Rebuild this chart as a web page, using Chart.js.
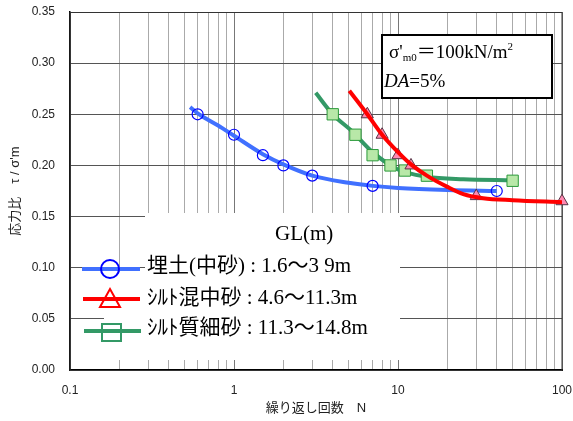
<!DOCTYPE html>
<html><head><meta charset="utf-8">
<script src="https://cdn.jsdelivr.net/npm/chart.js@4"></script>
<style>
html,body{margin:0;padding:0;background:#fff;}
#wrap{position:relative;width:573px;height:421px;}
canvas{position:absolute;left:0;top:0;}
.t{position:absolute;white-space:nowrap;font-family:"Liberation Serif","Noto Sans CJK JP",serif;color:#000;line-height:20px;}
.t sub{font-size:11px;vertical-align:-3px;line-height:0;}
.t sup{font-size:11px;vertical-align:8px;line-height:0;}
.lg{font-size:21px;}
</style></head><body>
<div id="wrap">
<canvas id="c" width="573" height="421"></canvas>
<div class="t" style="left:389px;top:42px;font-size:19px;">σ'<sub>m0</sub>＝100kN/m<sup>2</sup></div>
<div class="t" style="left:384px;top:71px;font-size:19px;"><i>DA</i>=5%</div>
<div class="t lg" style="left:275px;top:223px;">GL(m)</div>
<div class="t lg" style="left:147px;top:255px;">埋土(中砂) : 1.6～3 9m</div>
<div class="t lg" style="left:147px;top:287px;">ｼﾙﾄ混中砂 : 4.6～11.3m</div>
<div class="t lg" style="left:147px;top:317px;">ｼﾙﾄ質細砂 : 11.3～14.8m</div>
</div>
<script>
// 繰り返し回数 N と 応力比
const blueN = [0.6, 1, 1.5, 2, 3, 7, 40];
const blueT = [0.25, 0.23, 0.21, 0.20, 0.19, 0.18, 0.175];
const redN = [6.5, 8, 10, 12, 30, 100];
const redT = [0.25, 0.23, 0.21, 0.20, 0.17, 0.165];
const greenN = [4, 5.5, 7, 9, 11, 15, 50];
const greenT = [0.25, 0.23, 0.21, 0.20, 0.195, 0.19, 0.185];

// 近似曲線
const blueCurveN = [0.54, 0.6, 0.8, 1, 1.5, 2, 3, 5, 7, 10, 20, 40];
const blueCurveT = [0.257, 0.251, 0.239, 0.229, 0.211, 0.201, 0.19, 0.183, 0.18, 0.178, 0.176, 0.175];
const redCurveN = [5.05, 6.5, 8, 10, 12, 15, 20, 25, 33, 50, 100];
const redCurveT = [0.273, 0.25, 0.23, 0.213, 0.201, 0.19, 0.179, 0.172, 0.168, 0.166, 0.164];
const greenCurveN = [3.15, 4, 5.2, 7, 10, 15, 25, 50];
const greenCurveT = [0.271, 0.25, 0.234, 0.213, 0.196, 0.189, 0.1865, 0.1855];

const xTicks = [0.1,0.2,0.3,0.4,0.5,0.6,0.7,0.8,0.9,1,2,3,4,5,6,7,8,9,10,20,30,40,50,60,70,80,90,100];
const xLabels = {0.1:'0.1', 1:'1', 10:'10', 100:'100'};

const pts = (xs, ys) => xs.map((x,i)=>({x:x, y:ys[i]}));
const FONT = '"Liberation Sans", "Noto Sans CJK JP", sans-serif';

const overlay = {
  id:'overlay',
  beforeDatasetsDraw(chart){
    const ctx = chart.ctx, a = chart.chartArea;
    ctx.save();
    ctx.fillStyle='#fff';
    ctx.fillRect(145,213,255,147);
    ctx.fillRect(104,272,41,88);
    ctx.fillRect(382,35,170,63);
    ctx.lineWidth=2; ctx.strokeStyle='#000';
    ctx.strokeRect(382,35,170,63);
    ctx.lineWidth=1; ctx.strokeStyle='#333';
    ctx.strokeRect(a.left, a.top+0.5, a.right-a.left, a.bottom-a.top);
    ctx.restore();
  },
  afterDraw(chart){
    const ctx = chart.ctx;
    ctx.save();
    ctx.lineWidth=4;
    ctx.strokeStyle='#4070ff';
    ctx.beginPath(); ctx.moveTo(82,269); ctx.lineTo(140,269); ctx.stroke();
    ctx.strokeStyle='#ff0000';
    ctx.beginPath(); ctx.moveTo(83,299); ctx.lineTo(140,299); ctx.stroke();
    ctx.strokeStyle='#339966';
    ctx.beginPath(); ctx.moveTo(84,331); ctx.lineTo(141,331); ctx.stroke();
    ctx.lineWidth=2;
    ctx.strokeStyle='#0000ff';
    ctx.beginPath(); ctx.arc(110,269,9,0,Math.PI*2); ctx.stroke();
    ctx.strokeStyle='#ff0000';
    ctx.beginPath(); ctx.moveTo(110,289); ctx.lineTo(120,307); ctx.lineTo(100,307); ctx.closePath(); ctx.stroke();
    ctx.strokeStyle='#339966';
    ctx.strokeRect(102,324,19,17);
    ctx.restore();
  }
};

new Chart(document.getElementById('c'), {
  type:'line',
  data:{datasets:[
    {data:pts(redCurveN, redCurveT), borderColor:'#ff0000', borderWidth:4, pointRadius:0, cubicInterpolationMode:'monotone', order:1},
    {data:pts(redN, redT), showLine:false, pointStyle:'triangle', pointRadius:7, pointBackgroundColor:'#ff88b0', pointBorderColor:'#553344', pointBorderWidth:1, clip:false, order:2},
    {data:pts(greenN, greenT), showLine:false, pointStyle:'rect', pointRadius:8, pointBackgroundColor:'#b8e8a8', pointBorderColor:'#2a9a3a', pointBorderWidth:1, order:3},
    {data:pts(greenCurveN, greenCurveT), borderColor:'#339966', borderWidth:4, pointRadius:0, cubicInterpolationMode:'monotone', order:4},
    {data:pts(blueN, blueT), showLine:false, pointStyle:'circle', pointRadius:5.5, pointBackgroundColor:'rgba(0,0,0,0)', pointBorderColor:'#0000ff', pointBorderWidth:1.2, order:5},
    {data:pts(blueCurveN, blueCurveT), borderColor:'#4070ff', borderWidth:4, pointRadius:0, cubicInterpolationMode:'monotone', order:6}
  ]},
  options:{
    responsive:false, animation:false, devicePixelRatio:1,
    layout:{padding:{top:12, right:11, left:0, bottom:0}},
    plugins:{legend:{display:false}, tooltip:{enabled:false}},
    scales:{
      x:{type:'logarithmic', min:0.1, max:100,
        afterBuildTicks:s=>{ s.ticks = xTicks.map(v=>({value:v})); },
        afterFit:s=>{ s.height = 51; },
        grid:{drawTicks:true, tickLength:13, tickColor:'rgba(0,0,0,0)', color:c=>(c.tick && xLabels[c.tick.value]) ? '#777' : '#aaa', lineWidth:1},
        border:{display:true, color:'#000', width:2},
        ticks:{autoSkip:false, maxRotation:0, padding:0, color:'#222', font:{family:FONT, size:12},
          callback:v=>xLabels[v] || ''},
        title:{display:true, text:'繰り返し回数　N', color:'#222', font:{family:FONT, size:13}, padding:{top:0, bottom:5}}
      },
      y:{min:0, max:0.35,
        afterFit:s=>{ s.width = 70; },
        grid:{drawTicks:true, tickLength:15, tickColor:'rgba(0,0,0,0)', color:'#555', lineWidth:1},
        border:{display:true, color:'#000', width:1.5},
        ticks:{stepSize:0.05, padding:0, color:'#222', font:{family:FONT, size:12}, callback:v=>v.toFixed(2)},
        title:{display:true, text:"応力比　τ / σ'm", color:'#222', font:{family:FONT, size:13}, padding:{top:8, bottom:0}}
      }
    }
  },
  plugins:[overlay]
});
</script>
</body></html>
